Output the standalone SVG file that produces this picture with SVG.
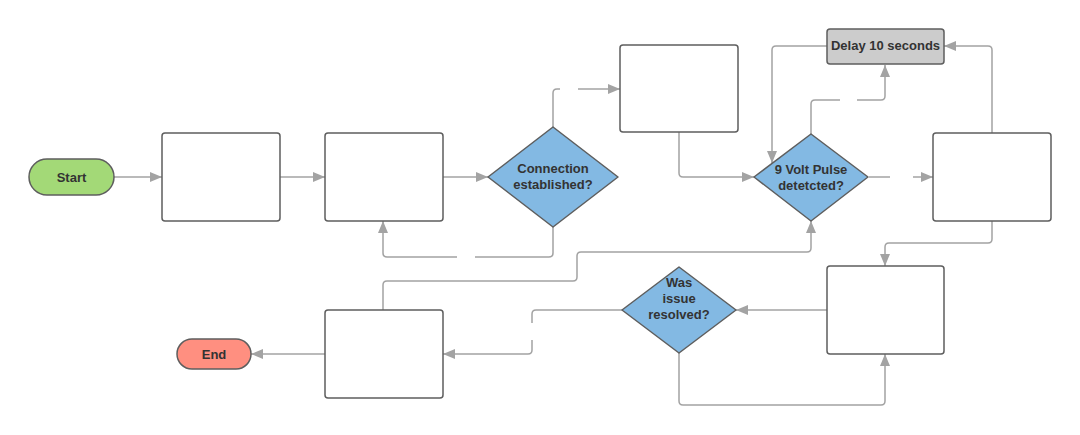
<svg xmlns="http://www.w3.org/2000/svg" width="1080" height="435" viewBox="0 0 1080 435">
<style>
.box{fill:#ffffff;stroke:#5e5e5e;stroke-width:1.5}
.dia{fill:#83b9e3;stroke:#5e5e5e;stroke-width:1.5;stroke-linejoin:round}
.lbl{font-family:"Liberation Sans",Arial,sans-serif;font-weight:bold;font-size:13px;fill:#333333;text-anchor:middle;dominant-baseline:central}
.con{fill:none;stroke:#a3a3a3;stroke-width:1.5}
</style>
<defs>
<marker id="arr" markerUnits="userSpaceOnUse" markerWidth="12" markerHeight="10" refX="12" refY="5" orient="auto">
<path d="M0,0 L12,5 L0,10 z" fill="#a3a3a3"/>
</marker>
</defs>
<rect width="1080" height="435" fill="#ffffff"/>
<g id="connectors">
<path class="con" d="M114,177 H162" marker-end="url(#arr)"/>
<path class="con" d="M280,177 H325" marker-end="url(#arr)"/>
<path class="con" d="M443,177 H488" marker-end="url(#arr)"/>
<path class="con" d="M553,127 V93 Q553,89 557,89 H560"/>
<path class="con" d="M578,89 H620" marker-end="url(#arr)"/>
<path class="con" d="M553,227 V253 Q553,257 549,257 H475"/>
<path class="con" d="M457,257 H387 Q383,257 383,253 V221" marker-end="url(#arr)"/>
<path class="con" d="M679,132 V173 Q679,177 683,177 H754" marker-end="url(#arr)"/>
<path class="con" d="M869,177 H890"/>
<path class="con" d="M913,177 H933" marker-end="url(#arr)"/>
<path class="con" d="M811,134 V104 Q811,100 815,100 H840"/>
<path class="con" d="M857,100 H881 Q885,100 885,96 V65" marker-end="url(#arr)"/>
<path class="con" d="M992,133 V50 Q992,46 988,46 H944" marker-end="url(#arr)"/>
<path class="con" d="M827,46 H776 Q772,46 772,50 V163" marker-end="url(#arr)"/>
<path class="con" d="M992,221 V239 Q992,243 988,243 H889 Q885,243 885,247 V266" marker-end="url(#arr)"/>
<path class="con" d="M827,310 H736" marker-end="url(#arr)"/>
<path class="con" d="M679,353 V401 Q679,405 683,405 H881 Q885,405 885,401 V354" marker-end="url(#arr)"/>
<path class="con" d="M622,310 H536 Q532,310 532,314 V323"/>
<path class="con" d="M532,340 V350 Q532,354 528,354 H443" marker-end="url(#arr)"/>
<path class="con" d="M325,354 H251" marker-end="url(#arr)"/>
<path class="con" d="M383,310 V285 Q383,281 387,281 H573 Q577,281 577,277 V256 Q577,252 581,252 H807 Q811,252 811,248 V221" marker-end="url(#arr)"/>
</g>
<g id="start">
<rect x="29" y="159" width="85" height="36" rx="18" fill="#a3d977" stroke="#5e5e5e" stroke-width="1.5"/>
<text class="lbl" x="71.5" y="177">Start</text>
</g>
<g id="box1"><rect class="box" x="162" y="133" width="118" height="88" rx="3"/></g>
<g id="box2"><rect class="box" x="325" y="133" width="118" height="88" rx="3"/></g>
<g id="connection">
<polygon class="dia" points="553,127 618,177 553,227 488,177"/>
<text class="lbl" x="553" y="168">Connection</text>
<text class="lbl" x="553" y="184">established?</text>
</g>
<g id="box3"><rect class="box" x="620" y="45" width="118" height="87" rx="3"/></g>
<g id="pulse">
<polygon class="dia" points="811,134 868,177 811,221 754,177"/>
<text class="lbl" x="811" y="169">9 Volt Pulse</text>
<text class="lbl" x="811" y="185">detetcted?</text>
</g>
<g id="delay">
<rect x="827" y="29" width="117" height="35" rx="3" fill="#cccccc" stroke="#5e5e5e" stroke-width="1.5"/>
<text class="lbl" x="885.5" y="45">Delay 10 seconds</text>
</g>
<g id="box6"><rect class="box" x="933" y="133" width="118" height="88" rx="3"/></g>
<g id="box5"><rect class="box" x="827" y="266" width="117" height="88" rx="3"/></g>
<g id="resolved">
<polygon class="dia" points="679,267 736,310 679,353 622,310"/>
<text class="lbl" x="679" y="282">Was</text>
<text class="lbl" x="679" y="298">issue</text>
<text class="lbl" x="679" y="314">resolved?</text>
</g>
<g id="box4"><rect class="box" x="325" y="310" width="118" height="88" rx="3"/></g>
<g id="end">
<rect x="177" y="339" width="74" height="30" rx="15" fill="#ff8f80" stroke="#5e5e5e" stroke-width="1.5"/>
<text class="lbl" x="214" y="354">End</text>
</g>
</svg>
